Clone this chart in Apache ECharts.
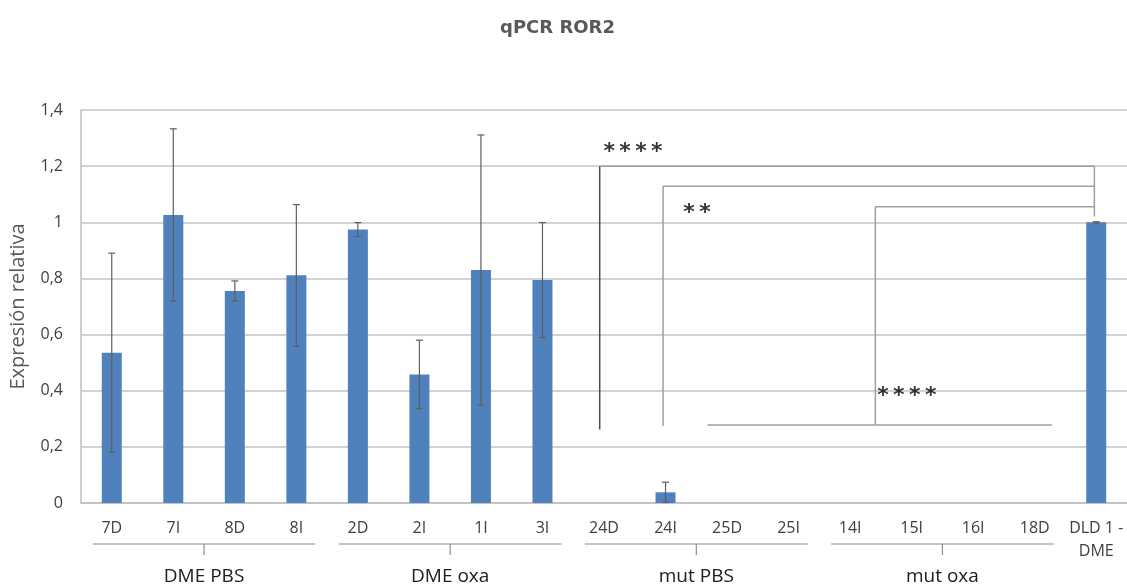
<!DOCTYPE html>
<html><head><meta charset="utf-8">
<script src="https://cdn.jsdelivr.net/npm/echarts@6/dist/echarts.min.js"></script>
<style>html,body{margin:0;padding:0;background:#fff}#c{width:1127px;height:586px}</style>
</head><body><div id="c"></div>
<script>
// ---- data ----
const categories = ['7D','7I','8D','8I','2D','2I','1I','3I','24D','24I','25D','25I','14I','15I','16I','18D','DLD 1 -\nDME'];
const values = [0.535, 1.026, 0.755, 0.811, 0.974, 0.458, 0.830, 0.794, 0, 0.038, 0, 0, 0, 0, 0, 0, 1.0];
const errors = [0.355, 0.307, 0.036, 0.252, 0.025, 0.122, 0.481, 0.205, 0, 0.036, 0, 0, 0, 0, 0, 0, 0.002];
const groupNames = ['DME PBS', 'DME oxa', 'mut PBS', 'mut oxa'];
const groupStart = [0, 4, 8, 12];
const groupEnd = [3, 7, 11, 15];
// significance brackets in (category index, value) units
const brackets = [
  [[7.93, 0.262], [7.93, 1.2]],
  [[7.93, 1.2], [15.97, 1.2], [15.97, 1.021]],
  [[8.96, 0.274], [8.96, 1.128], [15.97, 1.128]],
  [[12.41, 0.278], [12.41, 1.055], [15.97, 1.055]],
  [[9.68, 0.278], [15.28, 0.278]]
];
const starTexts = ['*\u2009*\u2009*\u2009*', '*\u2009*', '*\u2009*\u2009*\u2009*'];
const starX = [7.99, 9.29, 12.44];
const starY = [1.248, 1.032, 0.381];

const fmt = v => String(+v.toFixed(1)).replace('.', ',');
const textFont = "'Open Sans', 'Noto Sans', sans-serif";

const chart = echarts.init(document.getElementById('c'), null, {renderer: 'canvas'});

const series = [
  {
    type: 'bar', xAxisIndex: 0, yAxisIndex: 0, data: values, barWidth: 20,
    itemStyle: {color: '#4f81bd'}, silent: true, z: 2
  },
  {
    type: 'custom', xAxisIndex: 0, yAxisIndex: 0, z: 5, silent: true,
    data: values.map((v, i) => [i, v, errors[i]]),
    renderItem: function (params, api) {
      const i = api.value(0), v = api.value(1), e = api.value(2);
      if (v === 0 && e === 0) return null;
      const top = api.coord([i, v + e]);
      const bot = api.coord([i, Math.max(0, v - e)]);
      const hw = 3.5;
      const st = {stroke: '#5f5f5f', lineWidth: 1.2};
      const children = [
        {type: 'line', shape: {x1: top[0], y1: top[1], x2: bot[0], y2: bot[1]}, style: st},
        {type: 'line', shape: {x1: top[0] - hw, y1: top[1], x2: top[0] + hw, y2: top[1]}, style: st}
      ];
      if (v - e > 0) children.push({type: 'line', shape: {x1: bot[0] - hw, y1: bot[1], x2: bot[0] + hw, y2: bot[1]}, style: st});
      return {type: 'group', children: children};
    }
  }
];
brackets.forEach((b, k) => {
  series.push({
    type: 'line', xAxisIndex: 1, yAxisIndex: 0, data: b, symbol: 'none', silent: true, z: 4,
    lineStyle: {color: k === 0 ? '#4a4a4a' : '#a0a0a0', width: 1.5}
  });
});
series.push({
  type: 'scatter', xAxisIndex: 1, yAxisIndex: 0, symbolSize: 0, silent: true, z: 6,
  data: starX.map((x, i) => ({value: [x, starY[i]], name: starTexts[i]})),
  label: {
    show: true, position: [0, 0], align: 'left', verticalAlign: 'middle',
    formatter: p => p.name, color: '#000', fontSize: 22, fontWeight: 'bold', fontFamily: "'DejaVu Sans', sans-serif"
  }
});

chart.setOption({
  animation: false,
  backgroundColor: '#fff',
  title: {
    text: 'qPCR ROR2', left: 495, top: 14,
    textStyle: {color: '#595959', fontSize: 18, fontWeight: 'bold', fontFamily: "'DejaVu Sans', sans-serif"}
  },
  grid: {left: 80, top: 110, width: 1053, height: 393},
  xAxis: [
    {
      type: 'category', data: categories, boundaryGap: true,
      axisLine: {lineStyle: {color: '#bfbfbf', width: 1.5}},
      axisTick: {show: false},
      axisLabel: {color: '#404040', fontSize: 16, margin: 14, lineHeight: 23, fontFamily: textFont, interval: 0}
    },
    {type: 'value', min: -0.5, max: 16.5, show: false}
  ],
  yAxis: {
    type: 'value', min: 0, max: 1.4, interval: 0.2,
    name: 'Expresión relativa', nameLocation: 'middle', nameGap: 53,
    nameTextStyle: {color: '#595959', fontSize: 20, fontFamily: textFont},
    axisLine: {show: true, onZero: false, lineStyle: {color: '#bfbfbf', width: 1.5}},
    axisTick: {show: false},
    splitLine: {lineStyle: {color: '#c4c4c4', width: 1.5}},
    axisLabel: {color: '#404040', fontSize: 16, margin: 18, formatter: fmt, fontFamily: textFont}
  },
  series: series
});

// group labels under the category axis
const y0 = chart.convertToPixel({yAxisIndex: 0}, 0);
const px = x => chart.convertToPixel({xAxisIndex: 1}, x);
const graphics = [];
groupNames.forEach((name, g) => {
  const a = px(groupStart[g] - 0.31), b = px(groupEnd[g] + 0.31);
  const c = px((groupStart[g] + groupEnd[g]) / 2);
  graphics.push({type: 'line', shape: {x1: a, y1: y0 + 41, x2: b, y2: y0 + 41}, style: {stroke: '#8c8c8c', lineWidth: 1.2}, silent: true});
  graphics.push({type: 'line', shape: {x1: c, y1: y0 + 41, x2: c, y2: y0 + 52}, style: {stroke: '#8c8c8c', lineWidth: 1.2}, silent: true});
  graphics.push({type: 'text', x: c, y: y0 + 74, style: {text: name, fill: '#202020', fontSize: 19, fontFamily: textFont, align: 'center', verticalAlign: 'middle'}, silent: true});
});
chart.setOption({graphic: graphics});
</script></body></html>
